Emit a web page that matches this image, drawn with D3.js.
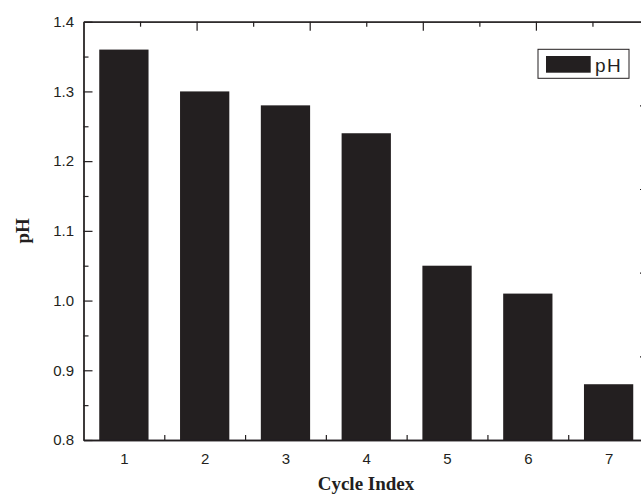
<!DOCTYPE html>
<html>
<head>
<meta charset="utf-8">
<script src="https://cdn.jsdelivr.net/npm/d3@7/dist/d3.min.js"></script>
<style>
  html, body { margin: 0; padding: 0; background: #fff; }
  svg { display: block; }
</style>
</head>
<body>
<svg id="chart" width="641" height="494"></svg>
<script>
const categories = [1, 2, 3, 4, 5, 6, 7];
const phValues = [1.36, 1.30, 1.28, 1.24, 1.05, 1.01, 0.88];
const yTickLabels = [0.8, 0.9, 1.0, 1.1, 1.2, 1.3, 1.4];
const seriesName = "pH";
const xTitle = "Cycle Index";
const yTitle = "pH";

const ink = "#231f20";
const L = 83.5, T = 21.7, R = 649, B = 440;

const svg = d3.select("#chart");

const x = d3.scaleLinear().domain([0.5, 7.5]).range([L, R]);
const y = d3.scaleLinear().domain([0.8, 1.4]).range([B, T]);
const barW = 0.61;

// bars
svg.append("g").selectAll("rect").data(categories).join("rect")
  .attr("x", (d) => x(d - barW / 2))
  .attr("width", (d) => x(d + barW / 2) - x(d - barW / 2))
  .attr("y", (d, i) => y(phValues[i]))
  .attr("height", (d, i) => y(0.8) - y(phValues[i]))
  .attr("fill", ink);

function styleAxis(g) {
  g.selectAll("path.domain").attr("stroke", ink).attr("stroke-width", 1.3);
  g.selectAll(".tick line").attr("stroke", ink).attr("stroke-width", 1.2);
  g.selectAll(".tick text").attr("fill", ink)
    .style("font-family", "Liberation Sans, Arial, sans-serif").style("font-size", "15px");
}

// left axis
const yMinor = d3.range(0.85, 1.4, 0.1);
svg.append("g").attr("transform", `translate(${L},0)`)
  .call(d3.axisLeft(y).tickValues(yMinor).tickSize(-5).tickFormat("").tickSizeOuter(0))
  .call(styleAxis);
svg.append("g").attr("transform", `translate(${L},0)`)
  .call(d3.axisLeft(y).tickValues(yTickLabels).tickSize(-9).tickPadding(9.5)
    .tickFormat(d3.format(".1f")).tickSizeOuter(0))
  .call(styleAxis);

// bottom axis
svg.append("g").attr("transform", `translate(0,${B})`)
  .call(d3.axisBottom(x).tickValues(categories).tickSize(0).tickPadding(13)
    .tickFormat(d3.format("d")).tickSizeOuter(0))
  .call(styleAxis);
svg.append("g").attr("transform", `translate(0,${B})`)
  .call(d3.axisBottom(x).tickValues(d3.range(1.5, 7.5, 1)).tickSize(-5).tickFormat("").tickSizeOuter(0))
  .call(styleAxis);

// top axis (unlabeled)
const xt = d3.scaleLinear().domain([0, 5]).range([L, R]);
svg.append("g").attr("transform", `translate(0,${T})`)
  .call(d3.axisTop(xt).tickValues(d3.range(0.5, 5, 1)).tickSize(-5).tickFormat("").tickSizeOuter(0))
  .call(styleAxis);
svg.append("g").attr("transform", `translate(0,${T})`)
  .call(d3.axisTop(xt).tickValues(d3.range(1, 5, 1)).tickSize(-9).tickFormat("").tickSizeOuter(0))
  .call(styleAxis);

// right axis (unlabeled)
const yr = d3.scaleLinear().domain([0, 5]).range([B, T]);
svg.append("g").attr("transform", `translate(${R},0)`)
  .call(d3.axisRight(yr).tickValues(d3.range(0.5, 5, 1)).tickSize(-5).tickFormat("").tickSizeOuter(0))
  .call(styleAxis);
svg.append("g").attr("transform", `translate(${R},0)`)
  .call(d3.axisRight(yr).tickValues(d3.range(1, 5, 1)).tickSize(-9).tickFormat("").tickSizeOuter(0))
  .call(styleAxis);

// legend
const lg = svg.append("g");
lg.append("rect").attr("x", 538).attr("y", 49.3).attr("width", 91).attr("height", 29)
  .attr("fill", "#fff").attr("stroke", ink).attr("stroke-width", 1);
lg.append("rect").attr("x", 546).attr("y", 56).attr("width", 44.7).attr("height", 16.7).attr("fill", ink);
lg.append("text").attr("x", 595).attr("y", 71.5).text(seriesName)
  .attr("fill", ink).style("font-family", "Liberation Sans, Arial, sans-serif")
  .style("font-size", "19px").style("letter-spacing", "1.5px");

// titles
svg.append("text").attr("x", 366).attr("y", 490)
  .attr("text-anchor", "middle").text(xTitle)
  .attr("fill", ink).style("font-family", "Liberation Serif, Times New Roman, serif")
  .style("font-weight", "bold").style("font-size", "19px");
svg.append("text").attr("transform", `translate(29,${(T + B) / 2}) rotate(-90)`)
  .attr("text-anchor", "middle").text(yTitle)
  .attr("fill", ink).style("font-family", "Liberation Serif, Times New Roman, serif")
  .style("font-weight", "bold").style("font-size", "19px");
</script>
</body>
</html>
